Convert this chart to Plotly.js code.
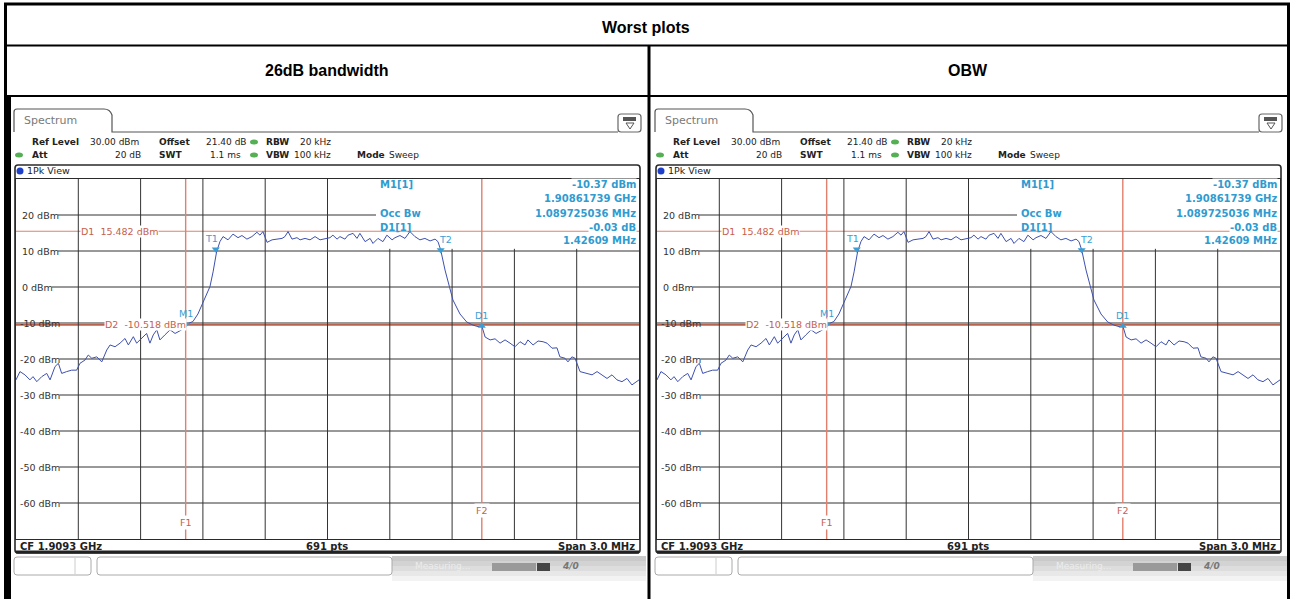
<!DOCTYPE html>
<html><head><meta charset="utf-8">
<script src="https://cdn.plot.ly/plotly-3.0.1.min.js"></script>
<style>html,body{margin:0;padding:0;background:#fff;overflow:hidden}#chart{width:1292px;height:599px}</style>
</head><body><div id="chart"></div>
<script>
// ---------- data (frequency offset from CF 1.9093 GHz, in MHz; level in dBm) ----------
const freqMHz = [-1.5,-1.481,-1.457,-1.433,-1.418,-1.400,-1.376,-1.352,-1.336,-1.312,-1.296,-1.280,-1.256,-1.232,-1.208,-1.192,-1.168,-1.152,-1.135,-1.111,-1.087,-1.063,-1.047,-1.023,-0.999,-0.975,-0.959,-0.935,-0.919,-0.895,-0.871,-0.855,-0.839,-0.822,-0.807,-0.783,-0.758,-0.734,-0.702,-0.683,-0.648,-0.624,-0.600,-0.585,-0.566,-0.551,-0.542,-0.534,-0.518,-0.503,-0.479,-0.455,-0.431,-0.412,-0.388,-0.364,-0.340,-0.325,-0.311,-0.291,-0.267,-0.243,-0.219,-0.205,-0.190,-0.171,-0.147,-0.132,-0.108,-0.084,-0.060,-0.036,-0.012,0.012,0.026,0.046,0.060,0.084,0.099,0.123,0.142,0.156,0.181,0.205,0.219,0.243,0.267,0.286,0.311,0.325,0.349,0.373,0.397,0.421,0.445,0.469,0.494,0.518,0.532,0.545,0.566,0.585,0.604,0.638,0.670,0.701,0.725,0.743,0.759,0.783,0.807,0.831,0.855,0.879,0.903,0.927,0.951,0.965,0.990,1.014,1.038,1.057,1.081,1.105,1.119,1.144,1.158,1.177,1.192,1.216,1.249,1.274,1.298,1.322,1.346,1.370,1.394,1.418,1.442,1.466,1.5];
const levelDbm = [-25.8,-23.5,-24.4,-25.8,-24.9,-26.3,-24.9,-24.0,-25.8,-22.1,-21.2,-24.0,-23.5,-23.1,-23.1,-21.2,-20.3,-18.9,-19.8,-19.4,-20.8,-17.5,-16.1,-16.6,-15.6,-14.3,-16.1,-13.8,-15.6,-14.3,-12.9,-15.6,-13.3,-11.9,-14.7,-13.3,-11.9,-12.9,-11.9,-10.4,-9.6,-7.5,-4.4,-2.5,0.1,4.2,7.5,9.8,12.6,14.0,13.1,14.7,13.7,14.3,13.3,14.0,15.2,14.4,15.4,12.4,13.1,13.3,13.5,14.0,15.4,13.3,13.7,13.1,13.5,13.1,14.0,13.1,13.3,13.7,14.4,13.3,14.0,13.3,14.4,14.9,13.5,14.9,12.6,13.5,12.1,13.5,12.6,14.4,13.1,13.7,14.3,13.5,15.4,14.0,13.1,13.5,12.8,13.3,12.6,10.3,4.7,0.6,-3.6,-7.5,-9.7,-10.6,-11.0,-10.8,-13.9,-14.7,-14.4,-15.6,-14.7,-15.6,-16.6,-15.2,-16.1,-14.7,-16.1,-15.0,-15.2,-15.6,-17.0,-16.9,-19.4,-19.8,-20.8,-19.4,-19.8,-23.5,-24.0,-24.4,-23.5,-24.4,-25.4,-24.4,-25.8,-26.3,-25.4,-27.2,-25.8];

const markerNames = ['M1','T1','T2','D1'];
const markerFreq  = [-0.683,-0.538,0.545,0.743];
const markerLevel = [-10.4,10.5,10.3,-10.8];

const displayLineNames  = ['D1','D2'];
const displayLineLevels = [15.482,-10.518];
const freqLineNames = ['F1','F2'];
const freqLineMHz   = [-0.683,0.743];

const yTickVals   = [20,10,0,-10,-20,-30,-40,-50,-60];
const yTickLabels = ['20 dBm','10 dBm','0 dBm','-10 dBm','-20 dBm','-30 dBm','-40 dBm','-50 dBm','-60 dBm'];
const xDivMHz     = [-1.2,-0.9,-0.6,-0.3,0,0.3,0.6,0.9,1.2];

const infoLabels = ['M1[1]','','Occ Bw','D1[1]',''];
const infoValues = ['-10.37 dBm','1.90861739 GHz','1.089725036 MHz','-0.03 dB','1.42609 MHz'];

const tableTitle = 'Worst plots';
const panelTitles = ['26dB bandwidth','OBW'];

// ---------- layout helpers ----------
const W=1292, H=599, OFF=641;
const X0=16, X1=639, YT=179, YB=539;
const shapes=[], annotations=[], traces=[];
const ctx=document.createElement('canvas').getContext('2d');
function tw(s,font){ctx.font=font;return ctx.measureText(s).width;}
function rr(x0,y0,x1,y1,r,X,Y){
  return `M${X(x0+r)},${Y(y0)} L${X(x1-r)},${Y(y0)} Q${X(x1)},${Y(y0)} ${X(x1)},${Y(y0+r)} L${X(x1)},${Y(y1-r)} Q${X(x1)},${Y(y1)} ${X(x1-r)},${Y(y1)} L${X(x0+r)},${Y(y1)} Q${X(x0)},${Y(y1)} ${X(x0)},${Y(y1-r)} L${X(x0)},${Y(y0+r)} Q${X(x0)},${Y(y0)} ${X(x0+r)},${Y(y0)} Z`;
}
function rect(x0,y0,x1,y1,fill,X,Y,layer){
  shapes.push({type:'rect',xref:'paper',yref:'paper',x0:X(x0),x1:X(x1),y0:Y(y1),y1:Y(y0),fillcolor:fill,line:{width:0},layer:layer||'above'});
}
function txt(x,y,t,o){
  o=o||{};
  annotations.push(Object.assign({xref:'paper',yref:'paper',x:x,y:y,text:t,showarrow:false,
    xanchor:o.xa||'left',yanchor:'middle',font:{size:o.size||9,color:o.color||'#222',family:o.family||'DejaVu Sans'}},o.extra||{}));
}
const FS='9.5px "DejaVu Sans"';
const BLUE='#2f9bd0', RED='#c8604c', REDL='#e0806e';

function panel(i){
  const off=i*OFF;
  const X=p=>(p+off)/W, Y=p=>1-p/H;
  const xr=i?'x2':'x', yr=i?'y2':'y';
  const dom=px=>(px-X0)/(X1-X0);
  // tab
  shapes.push({type:'path',xref:'paper',yref:'paper',layer:'above',line:{color:'#555',width:1.2},
    path:`M${X(14)},${Y(132)} L${X(14)},${Y(112)} Q${X(14)},${Y(109)} ${X(17)},${Y(109)} L${X(104)},${Y(109)} Q${X(110)},${Y(109)} ${X(112)},${Y(115)} L${X(112)},${Y(132)} L${X(618)},${Y(132)}`});
  txt(X(22),Y(121),'Spectrum',{size:11,color:'#7a7a7a'});
  // icon box
  shapes.push({type:'path',xref:'paper',yref:'paper',layer:'above',line:{color:'#666',width:1.2},fillcolor:'#fff',path:rr(618,114,641,132,3,X,Y)});
  rect(623,117,636,121,'#555',X,Y);
  shapes.push({type:'path',xref:'paper',yref:'paper',layer:'above',line:{color:'#555',width:1},path:`M${X(626)},${Y(123)} L${X(634)},${Y(123)} L${X(630)},${Y(129)} Z`});
  // green dots
  [[19,155],[254,142],[254,155]].forEach(d=>shapes.push({type:'circle',xref:'paper',yref:'paper',layer:'above',
    x0:X(d[0]-4),x1:X(d[0]+4),y0:Y(d[1]+2.5),y1:Y(d[1]-2.5),fillcolor:'#55b055',line:{width:0}}));
  // settings rows
  const fb=s=>'<b>'+s+'</b>';
  txt(X(30),Y(142),fb('Ref Level'));
  txt(X(141),Y(142),'30.00 dBm',{xa:'right'});
  txt(X(157),Y(142),fb('Offset'));
  txt(X(249),Y(142),'21.40 dB',{xa:'right'});
  txt(X(264),Y(142),fb('RBW'));
  txt(X(333),Y(142),'20 kHz',{xa:'right'});
  txt(X(30),Y(155),fb('Att'));
  txt(X(143),Y(155),'20 dB',{xa:'right'});
  txt(X(157),Y(155),fb('SWT'));
  txt(X(243),Y(155),'1.1 ms',{xa:'right'});
  txt(X(264),Y(155),fb('VBW'));
  txt(X(333),Y(155),'100 kHz',{xa:'right'});
  txt(X(355),Y(155),fb('Mode'));
  txt(X(387),Y(155),'Sweep');
  // frame
  shapes.push({type:'path',xref:'paper',yref:'paper',layer:'above',line:{color:'#2a2a2a',width:1.6},path:rr(15,165,640,553,3,X,Y)});
  shapes.push({type:'line',xref:'paper',yref:'paper',layer:'above',x0:X(16),x1:X(639),y0:Y(552),y1:Y(552),line:{color:'#222',width:3}});
  shapes.push({type:'circle',xref:'paper',yref:'paper',layer:'above',x0:X(16.5),x1:X(23.5),y0:Y(174.5),y1:Y(167.5),fillcolor:'#1d3fc9',line:{width:0}});
  txt(X(25),Y(171),'1Pk View',{size:9.5});
  // bottom bar
  txt(X(18),Y(546),fb('CF 1.9093 GHz'),{size:10});
  txt(X(327),Y(546),fb('691 pts'),{size:10,xa:'center'});
  txt(X(637),Y(546),fb('Span 3.0 MHz'),{size:10,xa:'right'});
  // status bar
  const gr=['#c9c9c9','#d3d3d3','#dddddd','#e8e8e8','#f3f3f3'];
  gr.forEach((c,k)=>rect(392,556+k*5,646,561+k*5,c,X,Y,'below'));
  shapes.push({type:'path',xref:'paper',yref:'paper',layer:'above',line:{color:'#aaa',width:1},fillcolor:'#fff',path:rr(14,557,91,575,3,X,Y)});
  shapes.push({type:'line',xref:'paper',yref:'paper',layer:'above',x0:X(75),x1:X(75),y0:Y(558),y1:Y(574),line:{color:'#ccc',width:1}});
  shapes.push({type:'path',xref:'paper',yref:'paper',layer:'above',line:{color:'#aaa',width:1},fillcolor:'#fff',path:rr(97,557,392,575,3,X,Y)});
  txt(X(413),Y(566),'Measuring...',{size:9,color:'#ececec'});
  rect(492,563,536,571,'#9a9a9a',X,Y);
  rect(537,563,550,571,'#454545',X,Y);
  txt(X(560),Y(566),'<b><i>4/0</i></b>',{size:9,color:'#777'});

  // ---- inside the diagram ----
  const boxTop=10.6;
  xDivMHz.forEach(f=>{
    const inBox=dom(X0+(f+1.5)/3*(X1-X0))>dom(376);
    shapes.push({type:'line',xref:xr,yref:yr,x0:f,x1:f,y0:-70,y1:inBox?boxTop:30,line:{color:'#333',width:1},layer:'below'});
  });
  yTickVals.forEach((v,k)=>{
    const lab=yTickLabels[k];
    const lx=lab.length>=7?18:20;
    const end=lx+tw(lab,FS)+1;
    shapes.push({type:'line',xref:xr+' domain',yref:yr,x0:v===-10?0:dom(end),x1:v===20?dom(376):1,y0:v,y1:v,line:{color:'#333',width:1},layer:'below'});
    annotations.push({xref:'paper',yref:yr,x:X(lx),y:v,text:lab,showarrow:false,xanchor:'left',yanchor:'middle',font:{size:9.5,color:'#333'}});
  });
  displayLineLevels.forEach((v,k)=>{
    shapes.push({type:'line',xref:xr+' domain',yref:yr,x0:0,x1:1,y0:v,y1:v,line:{color:k?'#b8634f':REDL,width:k?1.6:1.1},layer:'below'});
    annotations.push({xref:'paper',yref:yr,x:X(k?104:80),y:v,text:displayLineNames[k]+'  '+v.toFixed(3)+' dBm',showarrow:false,xanchor:'left',yanchor:'middle',
      bgcolor:'#fff',borderpad:0,font:{size:9.5,color:RED}});
  });
  freqLineMHz.forEach((f,k)=>{
    shapes.push({type:'line',xref:xr,yref:yr,x0:f,x1:f,y0:-70,y1:30,line:{color:REDL,width:1.4},layer:'below'});
    annotations.push({xref:xr,yref:'paper',x:f,y:Y(k?510:522),text:freqLineNames[k],showarrow:false,xanchor:'center',yanchor:'middle',
      bgcolor:'#fff',borderpad:1,font:{size:9.5,color:RED}});
  });
  const rows=[184,198,213,227,241];
  infoLabels.forEach((t,k)=>{
    if(t) txt(X(378),Y(rows[k]),'<b>'+t+'</b>',{size:10,color:BLUE});
    txt(X(637),Y(rows[k]),'<b>'+infoValues[k]+'</b>',{size:10,color:BLUE,xa:'right',extra:{bgcolor:'#fff',borderpad:0}});
  });
  traces.push({x:freqMHz,y:levelDbm,xaxis:xr,yaxis:yr,mode:'lines',line:{color:'#3e50ae',width:1},hoverinfo:'skip'});
  traces.push({x:markerFreq,y:markerLevel,xaxis:xr,yaxis:yr,mode:'markers',
    marker:{symbol:['triangle-down','triangle-down','triangle-down','triangle-up'],size:7,color:'#3a9ed4'},hoverinfo:'skip'});
  const shiftX=[0,-4,5,0];
  markerNames.forEach((n,k)=>annotations.push({xref:xr,yref:yr,x:markerFreq[k],y:markerLevel[k],text:n,showarrow:false,
    xanchor:'center',yanchor:'bottom',yshift:3,xshift:shiftX[k],font:{size:9.5,color:'#3a9ed4'}}));
}
panel(0); panel(1);

// ---------- table ----------
const TX=p=>p/W, TY=p=>1-p/H;
function tline(x0,y0,x1,y1,w){shapes.push({type:'line',xref:'paper',yref:'paper',layer:'above',x0:TX(x0),x1:TX(x1),y0:TY(y0),y1:TY(y1),line:{color:'#000',width:w}});}
tline(4,4,1290,4,3);
tline(4,45.5,1290,45.5,2);
tline(4,96,1290,96,2);
tline(5.5,3,5.5,599,3);
shapes.push({type:'rect',xref:'paper',yref:'paper',layer:'above',x0:TX(4),x1:TX(11),y0:TY(599),y1:TY(97),fillcolor:'#000',line:{width:0}});
tline(649,45,649,599,3);
tline(1288.5,3,1288.5,599,3);
annotations.push({xref:'paper',yref:'paper',x:TX(646),y:TY(27),text:'<b>'+tableTitle+'</b>',showarrow:false,xanchor:'center',yanchor:'middle',
  font:{family:'Liberation Sans, Arial',size:16,color:'#000'}});
[327,968].forEach((cx,k)=>annotations.push({xref:'paper',yref:'paper',x:TX(cx),y:TY(71),text:'<b>'+panelTitles[k]+'</b>',showarrow:false,
  xanchor:'center',yanchor:'middle',font:{family:'Liberation Sans, Arial',size:16,color:'#000'}}));

const ax={range:[-1.5,1.5],showgrid:false,zeroline:false,showticklabels:false,ticks:'',
  showline:true,mirror:true,linecolor:'#2a2a2a',linewidth:1.2,fixedrange:true};
const ay={range:[-70,30],showgrid:false,zeroline:false,showticklabels:false,ticks:'',showline:true,mirror:true,linecolor:'#2a2a2a',linewidth:1.2,fixedrange:true};
const layout={
  width:W,height:H,margin:{l:0,r:0,t:0,b:0},paper_bgcolor:'#fff',plot_bgcolor:'#fff',showlegend:false,
  font:{family:'DejaVu Sans',size:9.5,color:'#222'},
  xaxis:Object.assign({},ax,{domain:[X0/W,X1/W],anchor:'y'}),
  yaxis:Object.assign({},ay,{domain:[1-YB/H,1-YT/H],anchor:'x'}),
  xaxis2:Object.assign({},ax,{domain:[(X0+OFF)/W,(X1+OFF)/W],anchor:'y2'}),
  yaxis2:Object.assign({},ay,{domain:[1-YB/H,1-YT/H],anchor:'x2'}),
  shapes:shapes,annotations:annotations
};
Plotly.newPlot('chart',traces,layout,{staticPlot:true,displayModeBar:false});
</script></body></html>
